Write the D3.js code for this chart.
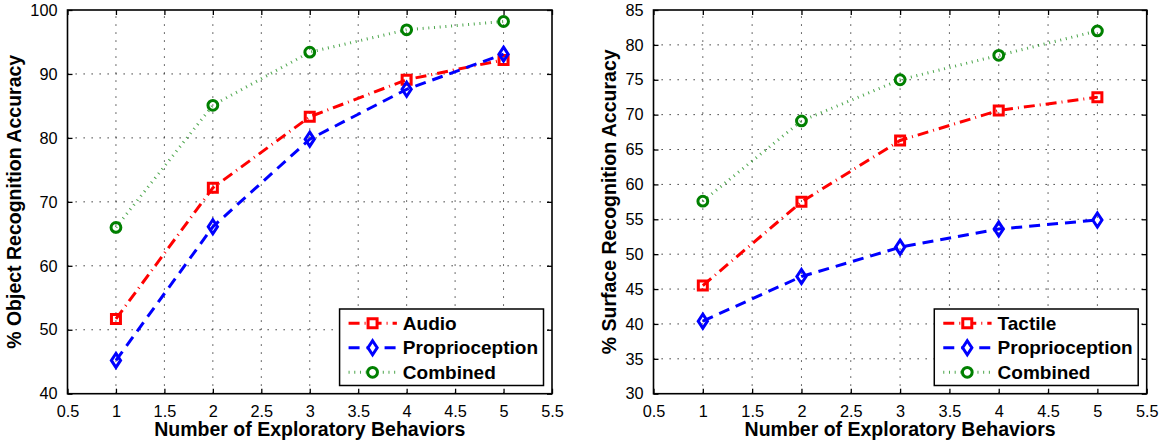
<!DOCTYPE html>
<html>
<head>
<meta charset="utf-8">
<script src="https://cdn.jsdelivr.net/npm/d3@7/dist/d3.min.js"></script>
<style>
  html, body { margin: 0; padding: 0; background: #fff; }
  svg { display: block; font-family: "Liberation Sans", Arial, Helvetica, sans-serif; }
</style>
</head>
<body>
<svg id="chart" width="1164" height="442"></svg>
<script>
// Number of exploratory behaviors used
const behaviors = [1, 2, 3, 4, 5];
const xTicks = [0.5, 1, 1.5, 2, 2.5, 3, 3.5, 4, 4.5, 5, 5.5];

// Object recognition accuracy (%)
const objectAudio = [51.7, 72.2, 83.3, 89.1, 92.2];
const objectProprioception = [45.2, 66.1, 79.8, 87.6, 93.1];
const objectCombined = [66.0, 85.1, 93.4, 96.9, 98.2];
const objectYTicks = [40, 50, 60, 70, 80, 90, 100];

// Surface recognition accuracy (%)
const surfaceTactile = [45.5, 57.5, 66.3, 70.6, 72.5];
const surfaceProprioception = [40.4, 46.8, 51.0, 53.6, 54.9];
const surfaceCombined = [57.6, 69.1, 75.0, 78.5, 82.0];
const surfaceYTicks = [30, 35, 40, 45, 50, 55, 60, 65, 70, 75, 80, 85];

const styles = {
  dashdot: { color: "#ff0000", dash: "11,5,1,5", marker: "square", opacity: 1 },
  dashed:  { color: "#0000ff", dash: "11,7", marker: "diamond", opacity: 1 },
  dotted:  { color: "#008000", dash: "1,4.7", marker: "circle", opacity: 0.7 }
};

const svg = d3.select("#chart");

function markerPath(type) {
  if (type === "square") return "M-4.5,-4.5H4.5V4.5H-4.5Z";
  if (type === "diamond") return "M0,-7L4.6,0L0,7L-4.6,0Z";
  return d3.arc()({ innerRadius: 0, outerRadius: 4.9, startAngle: 0, endAngle: 2 * Math.PI });
}

function drawPanel(cfg) {
  const x = d3.scaleLinear().domain([0.5, 5.5]).range(cfg.xRange);
  const y = d3.scaleLinear().domain(d3.extent(cfg.yTicks)).range([393.7, 10]);
  const g = svg.append("g");
  const [x0, x1] = x.range();
  const [y0, y1] = y.range();

  // dotted grid
  const grid = g.append("g").attr("stroke", "#222").attr("stroke-width", 1)
    .attr("stroke-dasharray", "1.3,6.7");
  grid.selectAll(".vg").data(xTicks.slice(1, -1)).join("line")
    .attr("x1", d => x(d)).attr("x2", d => x(d)).attr("y1", y0).attr("y2", y1);
  grid.selectAll(".hg").data(cfg.yTicks.slice(1, -1)).join("line")
    .attr("y1", d => y(d)).attr("y2", d => y(d)).attr("x1", x0).attr("x2", x1);

  // axes with inward ticks on all sides
  const tickStyle = sel => {
    sel.select(".domain").remove();
    sel.selectAll(".tick line").attr("stroke", "#000").attr("stroke-width", 1.3);
    sel.selectAll(".tick text").attr("font-size", 16.3).attr("fill", "#000");
  };
  g.append("g").attr("transform", `translate(0,${y0})`)
    .call(d3.axisBottom(x).tickValues(xTicks).tickSizeInner(-5).tickPadding(12).tickFormat(d3.format("")))
    .call(tickStyle);
  g.append("g").attr("transform", `translate(0,${y1})`)
    .call(d3.axisTop(x).tickValues(xTicks).tickSizeInner(-5).tickFormat(""))
    .call(tickStyle);
  const yAxis = g.append("g").attr("transform", `translate(${x0},0)`)
    .call(d3.axisLeft(y).tickValues(cfg.yTicks).tickSizeInner(-5).tickPadding(10).tickFormat(d3.format("")))
    .call(tickStyle);
  g.append("g").attr("transform", `translate(${x1},0)`)
    .call(d3.axisRight(y).tickValues(cfg.yTicks).tickSizeInner(-5).tickFormat(""))
    .call(tickStyle);

  // frame
  g.append("rect").attr("x", x0).attr("y", y1).attr("width", x1 - x0).attr("height", y0 - y1)
    .attr("fill", "none").attr("stroke", "#000").attr("stroke-width", 1.6);

  // series
  const line = d3.line().x((d, i) => x(behaviors[i])).y(d => y(d));
  cfg.series.forEach(s => {
    const st = styles[s.style];
    g.append("path").datum(s.values).attr("d", line)
      .attr("fill", "none").attr("stroke", st.color).attr("stroke-width", 3)
      .attr("stroke-dasharray", st.dash).attr("stroke-opacity", st.opacity);
    g.selectAll(null).data(s.values).join("path")
      .attr("transform", (d, i) => `translate(${x(behaviors[i])},${y(d)})`)
      .attr("d", markerPath(st.marker))
      .attr("fill", "none").attr("stroke", st.color).attr("stroke-width", 3);
  });

  // axis labels
  let maxW = 0;
  yAxis.selectAll(".tick text").each(function () { maxW = Math.max(maxW, this.getBBox().width); });
  const yLabelX = x0 - 10 - maxW - 16;
  g.append("text")
    .attr("transform", `translate(${yLabelX},${(y0 + y1) / 2}) rotate(-90)`)
    .attr("text-anchor", "middle").attr("dominant-baseline", "central")
    .attr("font-size", 19.5).attr("font-weight", "bold").text(cfg.yLabel);
  g.append("text").attr("x", (x0 + x1) / 2).attr("y", 436)
    .attr("text-anchor", "middle").attr("font-size", 19.5).attr("font-weight", "bold")
    .text("Number of Exploratory Behaviors");

  // legend
  const lg = g.append("g");
  const box = lg.append("rect").attr("fill", "#fff").attr("stroke", "#000").attr("stroke-width", 1.5);
  const rowH = 24.5;
  let textW = 0;
  cfg.series.forEach((s, i) => {
    const st = styles[s.style];
    const row = lg.append("g").attr("transform", `translate(0,${i * rowH})`);
    row.append("line").attr("x1", 9).attr("x2", 57.3).attr("y1", 0).attr("y2", 0)
      .attr("stroke", st.color).attr("stroke-width", 3).attr("stroke-dasharray", st.dash)
      .attr("stroke-opacity", st.opacity);
    row.append("path").attr("transform", "translate(33,0)").attr("d", markerPath(st.marker))
      .attr("fill", "#fff").attr("stroke", st.color).attr("stroke-width", 3);
    const t = row.append("text").attr("x", 63.3).attr("y", 0).attr("dominant-baseline", "central")
      .attr("font-size", 19).attr("font-weight", "bold").text(s.name);
    textW = Math.max(textW, t.node().getComputedTextLength());
  });
  const bw = 63.3 + textW + 5.5;
  const bh = 76.5;
  box.attr("x", 0).attr("y", -14.3).attr("width", bw).attr("height", bh);
  lg.attr("transform", `translate(${x1 - 8.5 - bw},${y0 - 8.2 - bh + 14.3})`);
}

drawPanel({
  xRange: [67.5, 552],
  yTicks: objectYTicks,
  yLabel: "% Object Recognition Accuracy",
  series: [
    { name: "Audio", values: objectAudio, style: "dashdot" },
    { name: "Proprioception", values: objectProprioception, style: "dashed" },
    { name: "Combined", values: objectCombined, style: "dotted" }
  ]
});

drawPanel({
  xRange: [653.5, 1146.7],
  yTicks: surfaceYTicks,
  yLabel: "% Surface Recognition Accuracy",
  series: [
    { name: "Tactile", values: surfaceTactile, style: "dashdot" },
    { name: "Proprioception", values: surfaceProprioception, style: "dashed" },
    { name: "Combined", values: surfaceCombined, style: "dotted" }
  ]
});
</script>
</body>
</html>
